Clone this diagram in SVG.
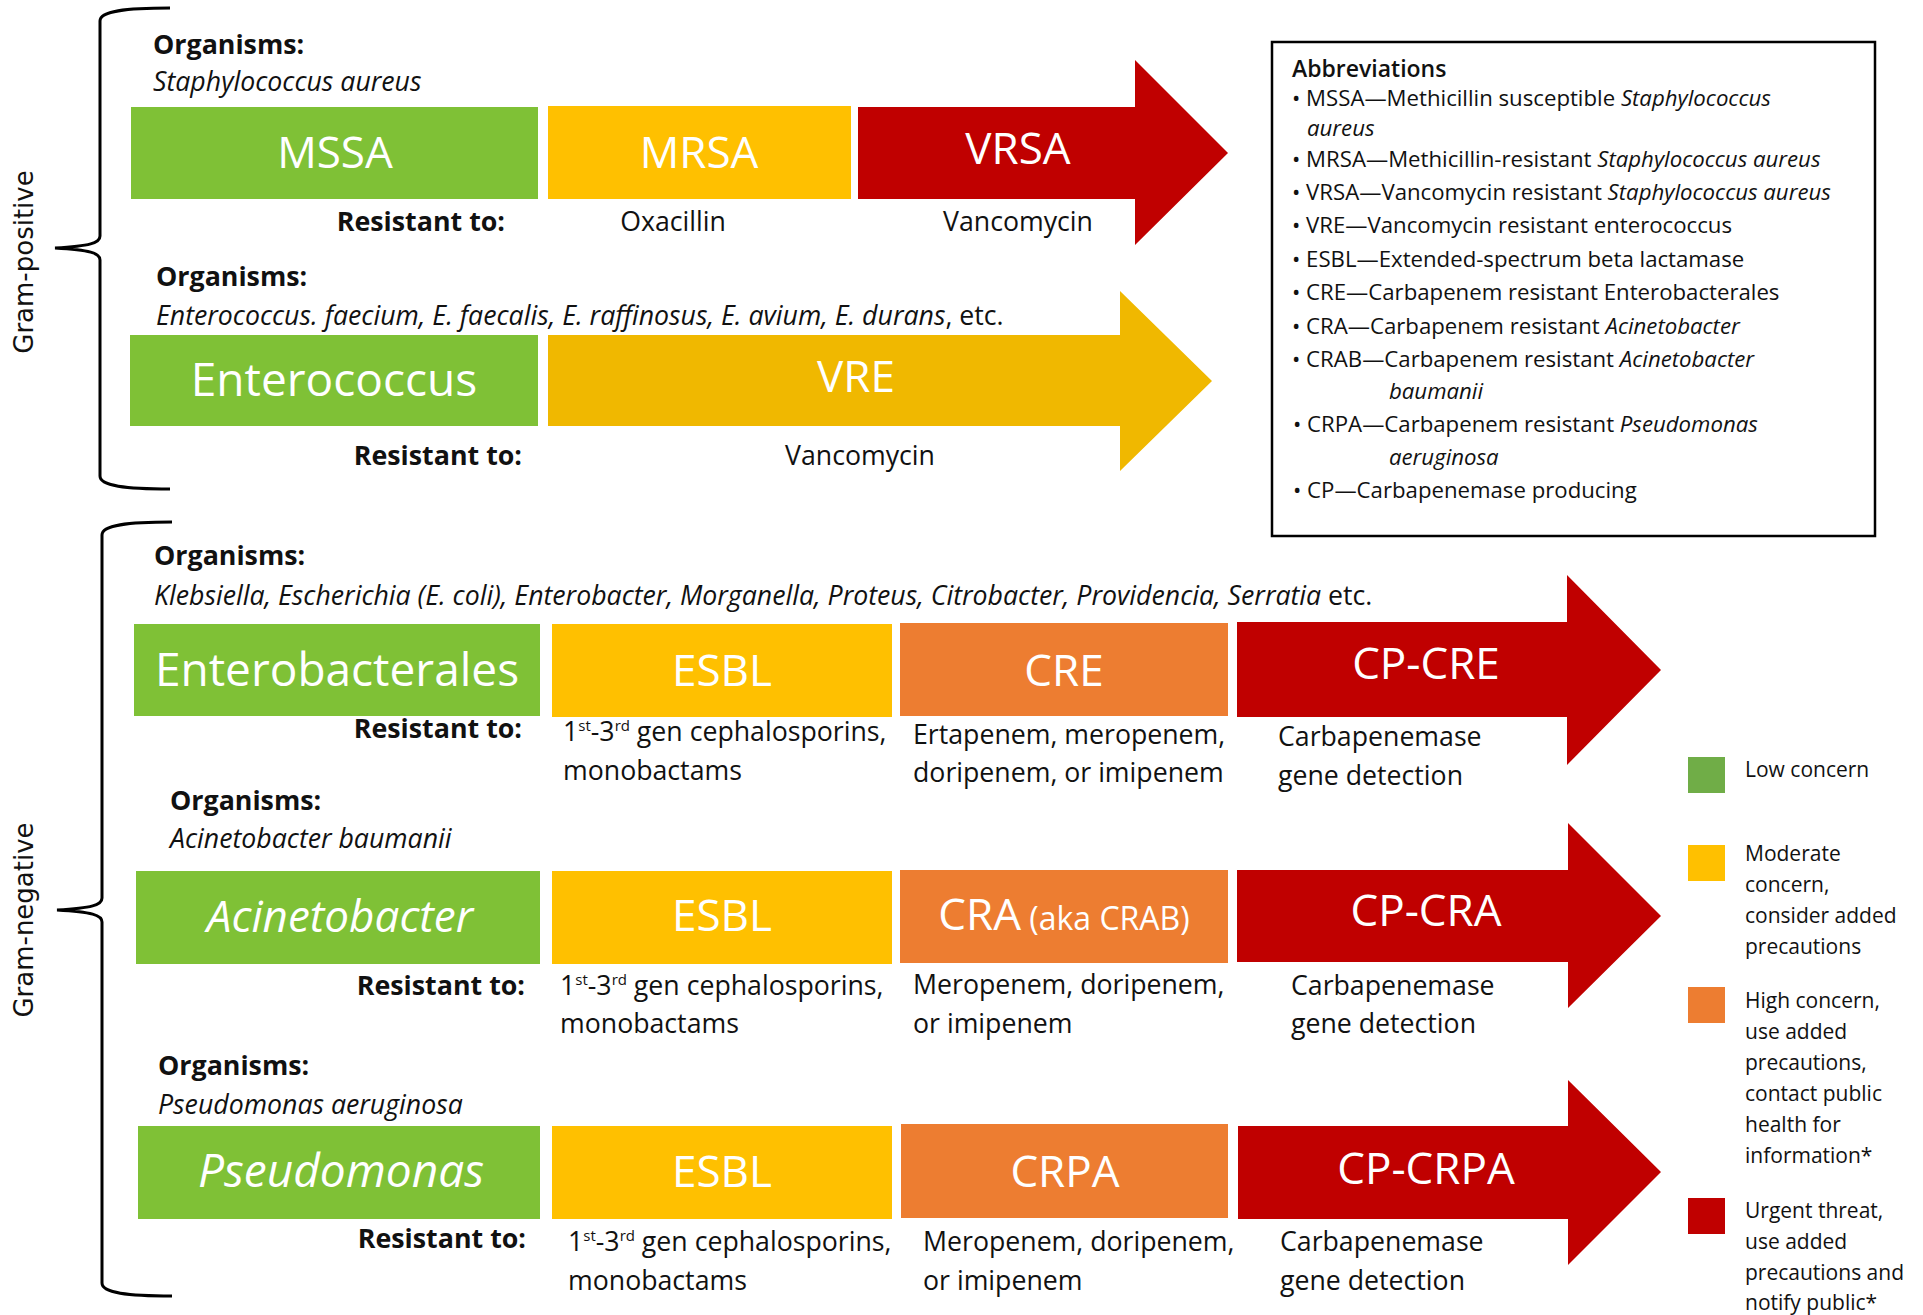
<svg xmlns="http://www.w3.org/2000/svg" width="1923" height="1315" viewBox="0 0 1923 1315">
<style>
text{font-family:"Open Sans","Noto Sans","Liberation Sans",sans-serif;fill:#111}
.big{font-size:44px;fill:#fff;text-anchor:middle}
.bg{font-size:46px}
.bi{font-style:italic}
.lbl{font-size:26.8px;font-weight:700}
.org{font-size:26.7px}
.it{font-style:italic}
.body{font-size:26.7px}
.rt{font-size:26.8px;font-weight:700;text-anchor:end}
.mid{text-anchor:middle}
.ab{font-size:22.2px}
.abt{font-size:23px;font-weight:600}
.lg{font-size:21px}
.gram{font-family:"DejaVu Sans","Liberation Sans",sans-serif;font-size:26px;text-anchor:middle}
.green{fill:#7FC136}
.yellow{fill:#FFC000}
.orange{fill:#ED7D31}
.red{fill:#C00000}
.brace{fill:none;stroke:#000;stroke-width:3}
</style>

<!-- Gram-positive brace -->
<g id="brace-gram-positive">
<path class="brace" d="M170,8 C125,8 100,11 100,21 L100,236 C100,243 90,246 55,248 C90,250 100,253 100,260 L100,476 C100,486 125,489 170,489"/>
<text class="gram" transform="translate(33,262) rotate(-90)">Gram-positive</text>
</g>

<!-- Gram-negative brace -->
<g id="brace-gram-negative">
<path class="brace" d="M172,522 C127,522 102,525 102,535 L102,898 C102,905 92,908 57,910 C92,912 102,915 102,922 L102,1283 C102,1293 127,1296 172,1296"/>
<text class="gram" transform="translate(33,920) rotate(-90)">Gram-negative</text>
</g>

<!-- Staphylococcus row -->
<g id="staph-labels">
<text class="lbl" x="153" y="54">Organisms:</text>
<text class="org it" x="153" y="91">Staphylococcus aureus</text>
<text class="rt" x="505" y="231">Resistant to:</text>
<text class="body mid" x="673" y="231">Oxacillin</text>
<text class="body mid" x="1018" y="231">Vancomycin</text>
</g>
<g id="mssa"><rect class="green" x="131" y="107" width="407" height="92"/><text class="big" x="335" y="168">MSSA</text></g>
<g id="mrsa"><rect class="yellow" x="548" y="106" width="303" height="93"/><text class="big" x="699" y="168">MRSA</text></g>
<g id="vrsa"><polygon class="red" points="858,107 1135,107 1135,60 1228,153 1135,245 1135,199 858,199"/><text class="big" x="1018" y="164">VRSA</text></g>

<!-- Enterococcus row -->
<g id="enterococcus-labels">
<text class="lbl" x="156" y="286">Organisms:</text>
<text class="org" x="156" y="325"><tspan class="it">Enterococcus. faecium, E. faecalis, E. raffinosus, E. avium, E. durans</tspan>, etc.</text>
<text class="rt" x="522" y="465">Resistant to:</text>
<text class="body mid" x="860" y="465">Vancomycin</text>
</g>
<g id="enterococcus"><rect class="green" x="130" y="335" width="408" height="91"/><text class="big bg" x="334" y="396">Enterococcus</text></g>
<g id="vre"><polygon fill="#F0B800" points="548,335 1120,335 1120,291 1212,381 1120,471 1120,426 548,426"/><text class="big" x="856" y="392">VRE</text></g>

<!-- Abbreviations -->
<g id="abbreviations">
<rect x="1272" y="42" width="603" height="494" fill="#fff" stroke="#000" stroke-width="2.5"/>
<text class="abt" x="1292" y="77">Abbreviations</text>
<text class="ab" x="1292" y="106">• MSSA—Methicillin susceptible <tspan class="it">Staphylococcus</tspan></text>
<text class="ab it" x="1307" y="136">aureus</text>
<text class="ab" x="1292" y="167">• MRSA—Methicillin-resistant <tspan class="it">Staphylococcus aureus</tspan></text>
<text class="ab" x="1292" y="200">• VRSA—Vancomycin resistant <tspan class="it">Staphylococcus aureus</tspan></text>
<text class="ab" x="1292" y="233">• VRE—Vancomycin resistant enterococcus</text>
<text class="ab" x="1292" y="267">• ESBL—Extended-spectrum beta lactamase</text>
<text class="ab" x="1292" y="300">• CRE—Carbapenem resistant Enterobacterales</text>
<text class="ab" x="1292" y="334">• CRA—Carbapenem resistant <tspan class="it">Acinetobacter</tspan></text>
<text class="ab" x="1292" y="367">• CRAB—Carbapenem resistant <tspan class="it">Acinetobacter</tspan></text>
<text class="ab it" x="1389" y="399">baumanii</text>
<text class="ab" x="1293" y="432">• CRPA—Carbapenem resistant <tspan class="it">Pseudomonas</tspan></text>
<text class="ab it" x="1389" y="465">aeruginosa</text>
<text class="ab" x="1293" y="498">• CP—Carbapenemase producing</text>
</g>

<!-- Enterobacterales row -->
<g id="enterobacterales-labels">
<text class="lbl" x="154" y="565">Organisms:</text>
<text class="org" x="154" y="605"><tspan class="it">Klebsiella, Escherichia (E. coli), Enterobacter, Morganella, Proteus, Citrobacter, Providencia, Serratia</tspan> etc.</text>
<text class="rt" x="522" y="738">Resistant to:</text>
<text class="body" x="563" y="741">1<tspan font-size="15" dy="-10">st</tspan><tspan dy="10">-3</tspan><tspan font-size="15" dy="-10">rd</tspan><tspan dy="10"> gen cephalosporins,</tspan></text>
<text class="body" x="563" y="780">monobactams</text>
<text class="body" x="913" y="744">Ertapenem, meropenem,</text>
<text class="body" x="913" y="782">doripenem, or imipenem</text>
<text class="body" x="1278" y="746">Carbapenemase</text>
<text class="body" x="1278" y="785">gene detection</text>
</g>
<g id="enterobacterales"><rect class="green" x="134" y="624" width="406" height="92"/><text class="big bg" x="337" y="686">Enterobacterales</text></g>
<g id="esbl-1"><rect class="yellow" x="552" y="624" width="340" height="93"/><text class="big" x="722" y="686">ESBL</text></g>
<g id="cre"><rect class="orange" x="900" y="623" width="328" height="93"/><text class="big" x="1064" y="686">CRE</text></g>
<g id="cp-cre"><polygon class="red" points="1237,622 1567,622 1567,575 1661,670 1567,765 1567,717 1237,717"/><text class="big" x="1426" y="679">CP-CRE</text></g>

<!-- Acinetobacter row -->
<g id="acinetobacter-labels">
<text class="lbl" x="170" y="810">Organisms:</text>
<text class="org it" x="170" y="848">Acinetobacter baumanii</text>
<text class="rt" x="525" y="995">Resistant to:</text>
<text class="body" x="560" y="995">1<tspan font-size="15" dy="-10">st</tspan><tspan dy="10">-3</tspan><tspan font-size="15" dy="-10">rd</tspan><tspan dy="10"> gen cephalosporins,</tspan></text>
<text class="body" x="560" y="1033">monobactams</text>
<text class="body" x="913" y="994">Meropenem, doripenem,</text>
<text class="body" x="913" y="1033">or imipenem</text>
<text class="body" x="1291" y="995">Carbapenemase</text>
<text class="body" x="1291" y="1033">gene detection</text>
</g>
<g id="acinetobacter"><rect class="green" x="136" y="871" width="404" height="93"/><text class="big bi" font-size="47" x="340" y="932">Acinetobacter</text></g>
<g id="esbl-2"><rect class="yellow" x="552" y="871" width="340" height="93"/><text class="big" x="722" y="931">ESBL</text></g>
<g id="cra"><rect class="orange" x="900" y="870" width="328" height="93"/><text class="big" x="1064" y="930">CRA<tspan font-size="32"> (aka CRAB)</tspan></text></g>
<g id="cp-cra"><polygon class="red" points="1237,870 1568,870 1568,823 1661,916 1568,1008 1568,962 1237,962"/><text class="big" x="1426" y="926">CP-CRA</text></g>

<!-- Pseudomonas row -->
<g id="pseudomonas-labels">
<text class="lbl" x="158" y="1075">Organisms:</text>
<text class="org it" x="158" y="1114">Pseudomonas aeruginosa</text>
<text class="rt" x="526" y="1248">Resistant to:</text>
<text class="body" x="568" y="1251">1<tspan font-size="15" dy="-10">st</tspan><tspan dy="10">-3</tspan><tspan font-size="15" dy="-10">rd</tspan><tspan dy="10"> gen cephalosporins,</tspan></text>
<text class="body" x="568" y="1290">monobactams</text>
<text class="body" x="923" y="1251">Meropenem, doripenem,</text>
<text class="body" x="923" y="1290">or imipenem</text>
<text class="body" x="1280" y="1251">Carbapenemase</text>
<text class="body" x="1280" y="1290">gene detection</text>
</g>
<g id="pseudomonas"><rect class="green" x="138" y="1126" width="402" height="93"/><text class="big bi bg" x="341" y="1187">Pseudomonas</text></g>
<g id="esbl-3"><rect class="yellow" x="552" y="1126" width="340" height="93"/><text class="big" x="722" y="1187">ESBL</text></g>
<g id="crpa"><rect class="orange" x="901" y="1124" width="327" height="94"/><text class="big" x="1065" y="1187">CRPA</text></g>
<g id="cp-crpa"><polygon class="red" points="1238,1126 1568,1126 1568,1080 1661,1172 1568,1265 1568,1219 1238,1219"/><text class="big" x="1426" y="1184">CP-CRPA</text></g>

<!-- Legend -->
<g id="legend">
<rect x="1688" y="757" width="37" height="36" fill="#70AD47"/>
<text class="lg" x="1745" y="777">Low concern</text>
<rect x="1688" y="845" width="37" height="36" fill="#FFC000"/>
<text class="lg" x="1745" y="861">Moderate</text>
<text class="lg" x="1745" y="892">concern,</text>
<text class="lg" x="1745" y="923">consider added</text>
<text class="lg" x="1745" y="954">precautions</text>
<rect x="1688" y="987" width="37" height="36" fill="#ED7D31"/>
<text class="lg" x="1745" y="1008">High concern,</text>
<text class="lg" x="1745" y="1039">use added</text>
<text class="lg" x="1745" y="1070">precautions,</text>
<text class="lg" x="1745" y="1101">contact public</text>
<text class="lg" x="1745" y="1132">health for</text>
<text class="lg" x="1745" y="1163">information*</text>
<rect x="1688" y="1198" width="37" height="36" fill="#C00000"/>
<text class="lg" x="1745" y="1218">Urgent threat,</text>
<text class="lg" x="1745" y="1249">use added</text>
<text class="lg" x="1745" y="1280">precautions and</text>
<text class="lg" x="1745" y="1310">notify public*</text>
</g>

<g id="connectors"></g>
</svg>
